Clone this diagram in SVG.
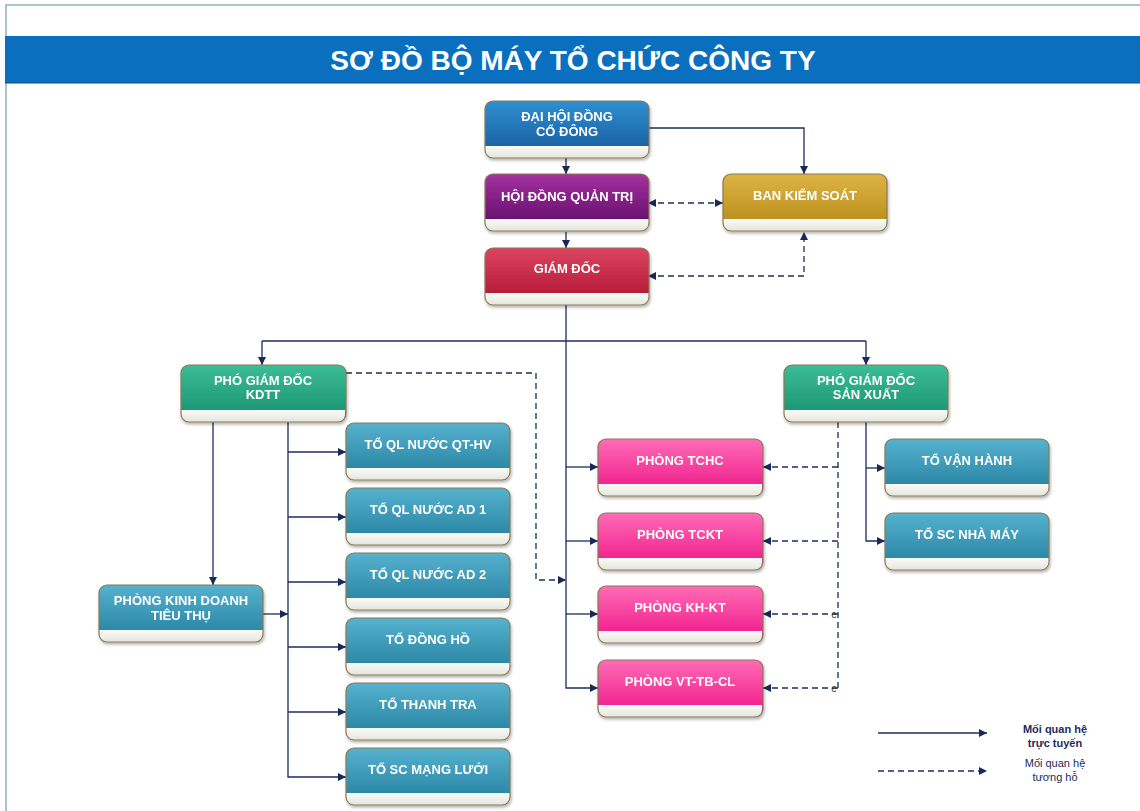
<svg xmlns="http://www.w3.org/2000/svg" width="1140" height="811" viewBox="0 0 1140 811">
<defs>
<linearGradient id="gBlue" x1="0" y1="0" x2="0" y2="1"><stop offset="0" stop-color="#2f8fd0"/><stop offset="1" stop-color="#14589a"/></linearGradient>
<linearGradient id="gPurple" x1="0" y1="0" x2="0" y2="1"><stop offset="0" stop-color="#a3329f"/><stop offset="1" stop-color="#5a0865"/></linearGradient>
<linearGradient id="gGold" x1="0" y1="0" x2="0" y2="1"><stop offset="0" stop-color="#dcb444"/><stop offset="1" stop-color="#b68816"/></linearGradient>
<linearGradient id="gRed" x1="0" y1="0" x2="0" y2="1"><stop offset="0" stop-color="#dc4461"/><stop offset="1" stop-color="#ad1230"/></linearGradient>
<linearGradient id="gGreen" x1="0" y1="0" x2="0" y2="1"><stop offset="0" stop-color="#3cbd98"/><stop offset="1" stop-color="#158e6b"/></linearGradient>
<linearGradient id="gTeal" x1="0" y1="0" x2="0" y2="1"><stop offset="0" stop-color="#56b2cf"/><stop offset="1" stop-color="#217d9c"/></linearGradient>
<linearGradient id="gPink" x1="0" y1="0" x2="0" y2="1"><stop offset="0" stop-color="#ff6cb6"/><stop offset="1" stop-color="#ee1287"/></linearGradient>
<linearGradient id="gStrip" x1="0" y1="0" x2="0" y2="1"><stop offset="0" stop-color="#fbfbf7"/><stop offset="1" stop-color="#e4e6dd"/></linearGradient>
<filter id="sh" x="-10%" y="-10%" width="125%" height="135%"><feDropShadow dx="1" dy="2" stdDeviation="1.5" flood-color="#000" flood-opacity="0.3"/></filter>
<marker id="ar" viewBox="0 0 10 10" refX="10" refY="5" markerUnits="userSpaceOnUse" markerWidth="9" markerHeight="8" orient="auto-start-reverse"><path d="M0,0 L10,5 L0,10 Z" fill="#17285a"/></marker>
<path id="strip" d="M0,45 H164 V49 Q164,57 156,57 H8 Q0,57 0,49 Z"/>
</defs>
<style>
.ln{fill:none;stroke:#1c2c5c;stroke-width:1.3}
.ds{fill:none;stroke:#1c2c5c;stroke-width:1.3;stroke-dasharray:6,4}
.ol{fill:none;stroke:#8a7a52;stroke-width:1.2}
.st{fill:url(#gStrip)}
.tx{font-family:"Liberation Sans",Arial,sans-serif;font-weight:bold;font-size:13px;fill:#fff;text-anchor:middle}
.lg{font-family:"Liberation Sans",Arial,sans-serif;font-size:11px;fill:#1c2c5c;text-anchor:middle}
</style>
<rect width="1140" height="811" fill="#fff"/>
<path d="M6,811 V5 H1140" fill="none" stroke="#8fb3c3" stroke-width="1.5"/>
<rect x="5" y="36" width="1135" height="47" fill="#0a6fbf"/>
<rect x="5" y="82" width="1135" height="2" fill="#08508a" opacity="0.5"/>
<text x="573" y="70" font-family="'Liberation Sans',Arial,sans-serif" font-weight="bold" font-size="28" fill="#fff" text-anchor="middle">SƠ ĐỒ BỘ MÁY TỔ CHỨC CÔNG TY</text>

<g id="connectors">
<path class="ln" d="M566,158 V174" marker-end="url(#ar)"/>
<path class="ln" d="M648,128 H804 V174" marker-end="url(#ar)"/>
<path class="ds" d="M648,203 H723" marker-start="url(#ar)" marker-end="url(#ar)"/>
<path class="ln" d="M566,232 V248" marker-end="url(#ar)"/>
<path class="ds" d="M648,276 H804 V232" marker-start="url(#ar)" marker-end="url(#ar)"/>
<path class="ln" d="M566,305 V688 H598" marker-end="url(#ar)"/>
<path class="ln" d="M566,467 H598" marker-end="url(#ar)"/>
<path class="ln" d="M566,541 H598" marker-end="url(#ar)"/>
<path class="ln" d="M566,614 H598" marker-end="url(#ar)"/>
<path class="ln" d="M262,341 H866"/>
<path class="ln" d="M262,341 V365" marker-end="url(#ar)"/>
<path class="ln" d="M866,341 V365" marker-end="url(#ar)"/>
<path class="ln" d="M213,422 V585" marker-end="url(#ar)"/>
<path class="ln" d="M288,422 V777 H346" marker-end="url(#ar)"/>
<path class="ln" d="M288,452 H346" marker-end="url(#ar)"/>
<path class="ln" d="M288,517 H346" marker-end="url(#ar)"/>
<path class="ln" d="M288,582 H346" marker-end="url(#ar)"/>
<path class="ln" d="M288,647 H346" marker-end="url(#ar)"/>
<path class="ln" d="M288,712 H346" marker-end="url(#ar)"/>
<path class="ln" d="M263,614 H288" marker-end="url(#ar)"/>
<path class="ds" d="M346,373 H536 V580 H566" marker-end="url(#ar)"/>
<path class="ln" d="M866,422 V541 H885" marker-end="url(#ar)"/>
<path class="ln" d="M866,468 H885" marker-end="url(#ar)"/>
<path class="ds" d="M838,422 V688"/>
<path class="ds" d="M838,467 H763" marker-end="url(#ar)"/>
<path class="ds" d="M838,541 H763" marker-end="url(#ar)"/>
<path class="ds" d="M838,614 H763" marker-end="url(#ar)"/>
<path class="ds" d="M838,688 H763" marker-end="url(#ar)"/>
<text x="834" y="618" font-family="'Liberation Sans',Arial,sans-serif" font-size="10" fill="#333" text-anchor="middle">e</text>
<text x="834" y="692" font-family="'Liberation Sans',Arial,sans-serif" font-size="10" fill="#333" text-anchor="middle">e</text>
</g>

<g id="n-dhdcd" transform="translate(485,101)" filter="url(#sh)"><rect width="164" height="57" rx="8" fill="url(#gBlue)"/><use href="#strip" class="st"/><rect class="ol" width="164" height="57" rx="8" stroke="#4d5560"/><text class="tx" x="82" y="20">ĐẠI HỘI ĐỒNG</text><text class="tx" x="82" y="35">CỔ ĐÔNG</text></g>
<g id="n-hdqt" transform="translate(485,174)" filter="url(#sh)"><rect width="164" height="57" rx="8" fill="url(#gPurple)"/><use href="#strip" class="st"/><rect class="ol" width="164" height="57" rx="8" stroke="#4d5560"/><text class="tx" x="82" y="27">HỘI ĐỒNG QUẢN TRỊ</text></g>
<g id="n-bks" transform="translate(723,174)" filter="url(#sh)"><rect width="164" height="57" rx="8" fill="url(#gGold)"/><use href="#strip" class="st"/><rect class="ol" width="164" height="57" rx="8" stroke="#6a6a60"/><text class="tx" x="82" y="26">BAN KIỂM SOÁT</text></g>
<g id="n-gd" transform="translate(485,248)" filter="url(#sh)"><rect width="164" height="57" rx="8" fill="url(#gRed)"/><use href="#strip" class="st"/><rect class="ol" width="164" height="57" rx="8" stroke="#4d5560"/><text class="tx" x="82" y="25">GIÁM ĐỐC</text></g>
<g id="n-pgd-kdtt" transform="translate(181,365)" filter="url(#sh)"><rect width="165" height="57" rx="8" fill="url(#gGreen)"/><use href="#strip" class="st"/><rect class="ol" width="165" height="57" rx="8" stroke="#4d6058"/><text class="tx" x="82" y="20">PHÓ GIÁM ĐỐC</text><text class="tx" x="82" y="34">KDTT</text></g>
<g id="n-pgd-sx" transform="translate(784,365)" filter="url(#sh)"><rect width="164" height="57" rx="8" fill="url(#gGreen)"/><use href="#strip" class="st"/><rect class="ol" width="164" height="57" rx="8" stroke="#4d6058"/><text class="tx" x="82" y="20">PHÓ GIÁM ĐỐC</text><text class="tx" x="82" y="34">SẢN XUẤT</text></g>

<g id="n-to-qthv" transform="translate(346,423)" filter="url(#sh)"><rect width="164" height="57" rx="8" fill="url(#gTeal)"/><use href="#strip" class="st"/><rect class="ol" width="164" height="57" rx="8"/><text class="tx" x="82" y="26">TỔ QL NƯỚC QT-HV</text></g>
<g id="n-to-ad1" transform="translate(346,488)" filter="url(#sh)"><rect width="164" height="57" rx="8" fill="url(#gTeal)"/><use href="#strip" class="st"/><rect class="ol" width="164" height="57" rx="8"/><text class="tx" x="82" y="26">TỔ QL NƯỚC AD 1</text></g>
<g id="n-to-ad2" transform="translate(346,553)" filter="url(#sh)"><rect width="164" height="57" rx="8" fill="url(#gTeal)"/><use href="#strip" class="st"/><rect class="ol" width="164" height="57" rx="8"/><text class="tx" x="82" y="26">TỔ QL NƯỚC AD 2</text></g>
<g id="n-to-dongho" transform="translate(346,618)" filter="url(#sh)"><rect width="164" height="57" rx="8" fill="url(#gTeal)"/><use href="#strip" class="st"/><rect class="ol" width="164" height="57" rx="8"/><text class="tx" x="82" y="26">TỔ ĐỒNG HỒ</text></g>
<g id="n-to-thanhtra" transform="translate(346,683)" filter="url(#sh)"><rect width="164" height="57" rx="8" fill="url(#gTeal)"/><use href="#strip" class="st"/><rect class="ol" width="164" height="57" rx="8"/><text class="tx" x="82" y="26">TỔ THANH TRA</text></g>
<g id="n-to-scml" transform="translate(346,748)" filter="url(#sh)"><rect width="164" height="57" rx="8" fill="url(#gTeal)"/><use href="#strip" class="st"/><rect class="ol" width="164" height="57" rx="8"/><text class="tx" x="82" y="26">TỔ SC MẠNG LƯỚI</text></g>
<g id="n-pkdtt" transform="translate(99,585)" filter="url(#sh)"><rect width="164" height="57" rx="8" fill="url(#gTeal)"/><use href="#strip" class="st"/><rect class="ol" width="164" height="57" rx="8"/><text class="tx" x="82" y="20">PHÒNG KINH DOANH</text><text class="tx" x="82" y="35">TIÊU THỤ</text></g>

<g id="n-tchc" transform="translate(598,439)" filter="url(#sh)"><rect width="165" height="57" rx="8" fill="url(#gPink)"/><use href="#strip" class="st"/><rect class="ol" width="165" height="57" rx="8"/><text class="tx" x="82" y="26">PHÒNG TCHC</text></g>
<g id="n-tckt" transform="translate(598,513)" filter="url(#sh)"><rect width="165" height="57" rx="8" fill="url(#gPink)"/><use href="#strip" class="st"/><rect class="ol" width="165" height="57" rx="8"/><text class="tx" x="82" y="26">PHÒNG TCKT</text></g>
<g id="n-khkt" transform="translate(598,586)" filter="url(#sh)"><rect width="165" height="57" rx="8" fill="url(#gPink)"/><use href="#strip" class="st"/><rect class="ol" width="165" height="57" rx="8"/><text class="tx" x="82" y="26">PHÒNG KH-KT</text></g>
<g id="n-vttbcl" transform="translate(598,660)" filter="url(#sh)"><rect width="165" height="57" rx="8" fill="url(#gPink)"/><use href="#strip" class="st"/><rect class="ol" width="165" height="57" rx="8"/><text class="tx" x="82" y="26">PHÒNG VT-TB-CL</text></g>

<g id="n-to-vanhanh" transform="translate(885,439)" filter="url(#sh)"><rect width="164" height="57" rx="8" fill="url(#gTeal)"/><use href="#strip" class="st"/><rect class="ol" width="164" height="57" rx="8"/><text class="tx" x="82" y="26">TỔ VẬN HÀNH</text></g>
<g id="n-to-scnm" transform="translate(885,513)" filter="url(#sh)"><rect width="164" height="57" rx="8" fill="url(#gTeal)"/><use href="#strip" class="st"/><rect class="ol" width="164" height="57" rx="8"/><text class="tx" x="82" y="26">TỔ SC NHÀ MÁY</text></g>

<g id="legend">
<path class="ln" d="M878,733 H987" marker-end="url(#ar)"/>
<path class="ds" d="M878,771 H987" marker-end="url(#ar)"/>
<text class="lg" x="1055" y="733" font-weight="bold">Mối quan hệ</text>
<text class="lg" x="1055" y="747" font-weight="bold">trực tuyến</text>
<text class="lg" x="1055" y="767" fill="#2a3a6a">Mối quan hệ</text>
<text class="lg" x="1055" y="781" fill="#2a3a6a">tương hỗ</text>
</g>
</svg>
